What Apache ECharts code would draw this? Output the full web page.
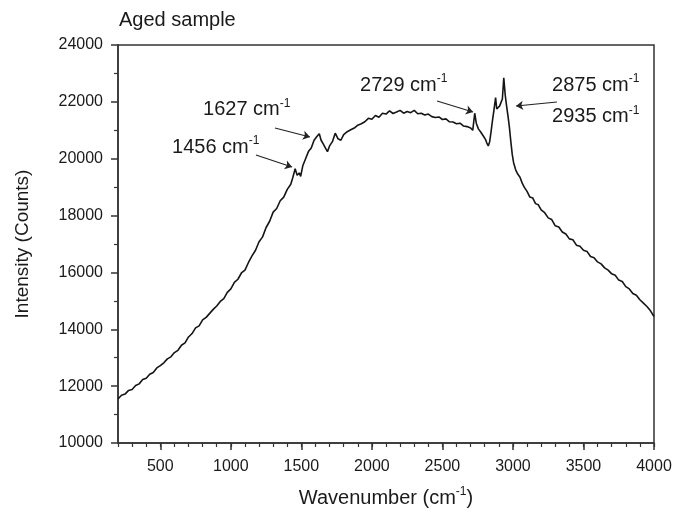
<!DOCTYPE html>
<html>
<head>
<meta charset="utf-8">
<script src="https://cdn.jsdelivr.net/npm/echarts@6/dist/echarts.min.js"></script>
<style>html,body{margin:0;padding:0;background:#fff}#c{width:675px;height:513px}</style>
</head>
<body>
<div id="c"></div>
<script>
// Wavenumber (cm-1)
const wavenumber = [200,225,250,275,300,325,350,375,400,425,450,475,500,525,550,575,600,625,650,675,700,725,750,775,800,825,850,875,900,925,950,975,1000,1025,1050,1075,1100,1125,1150,1175,1200,1225,1250,1275,1300,1325,1350,1375,1400,1425,1440,1456,1470,1485,1495,1510,1530,1550,1570,1590,1610,1627,1640,1655,1670,1685,1700,1720,1740,1760,1780,1800,1825,1850,1875,1900,1925,1950,1975,2000,2025,2050,2075,2100,2125,2150,2175,2200,2225,2250,2275,2300,2325,2350,2375,2400,2425,2450,2475,2500,2525,2550,2575,2600,2625,2650,2675,2700,2715,2729,2740,2755,2770,2790,2805,2815,2825,2835,2845,2855,2865,2877,2885,2895,2905,2915,2925,2935,2945,2955,2965,2975,2985,2995,3005,3020,3035,3050,3065,3080,3100,3120,3140,3160,3180,3200,3225,3250,3275,3300,3325,3350,3375,3400,3425,3450,3475,3500,3525,3550,3575,3600,3625,3650,3675,3700,3725,3750,3775,3800,3825,3850,3875,3900,3925,3950,3975,4000];
// Intensity (Counts)
const intensity = [11550,11680,11720,11850,11880,12020,12080,12230,12280,12420,12480,12640,12720,12820,12960,13030,13180,13260,13440,13520,13730,13850,14050,14120,14330,14420,14560,14700,14820,14980,15080,15300,15420,15650,15760,15980,16080,16350,16580,16780,17080,17250,17580,17800,18120,18250,18520,18650,18920,19100,19350,19650,19420,19500,19380,19750,20000,20250,20380,20650,20780,20880,20650,20520,20380,20250,20450,20600,20900,20700,20650,20850,20950,21020,21080,21180,21230,21300,21420,21390,21520,21460,21600,21570,21680,21590,21640,21700,21600,21660,21620,21700,21580,21600,21540,21570,21480,21450,21470,21380,21400,21300,21290,21230,21250,21150,21130,21080,21000,21600,21250,21050,20950,20800,20680,20550,20450,20600,20950,21350,21700,22150,21750,21700,21850,21780,22100,22850,22250,21850,21500,21100,20600,20150,19850,19600,19450,19350,19150,19000,18850,18650,18620,18420,18380,18200,18100,17920,17860,17640,17600,17420,17350,17180,17150,16960,16920,16780,16740,16560,16520,16370,16300,16160,16080,15950,15900,15730,15680,15500,15420,15260,15200,15040,14920,14800,14650,14450];
const xMajorTicks = [500,1000,1500,2000,2500,3000,3500,4000];
const peakLabels = ['1456','1627','2729','2875','2935'];
// annotation anchors [wavenumber, intensity]
const labelAnchors = [[583,20412],[803,21731],[1916,22592],[3277,22592],[3277,21484]];
const arrows = [
  [[1178,20130],[1434,19708]],
  [[1313,21080],[1561,20763]],
  [[2462,22030],[2717,21643]],
  [[3312,21994],[3022,21854]]
];

const FONT = 'Liberation Sans, Arial, sans-serif';
const TXT = '#1a1a1a';
const chart = echarts.init(document.getElementById('c'), null, {renderer:'canvas'});
const data = wavenumber.map((w,i)=>[w,intensity[i]]);
const supRich = {
  a:{fontSize:20,fontFamily:FONT,color:TXT,lineHeight:24},
  s:{fontSize:12,fontFamily:FONT,color:TXT,verticalAlign:'top',lineHeight:14}
};
chart.setOption({
  animation:false,
  backgroundColor:'#fff',
  title:{text:'Aged sample',left:114,top:5,textStyle:{fontFamily:FONT,fontSize:20,fontWeight:'normal',color:TXT}},
  grid:{left:118,right:21,top:45,bottom:70,show:true,borderColor:'#333',borderWidth:1.5,backgroundColor:'transparent'},
  xAxis:[{
    type:'value',min:200,max:4000,
    name:'{a|Wavenumber (cm}{s|-1}{a|)}',nameLocation:'middle',nameGap:43,
    nameTextStyle:{rich:supRich},
    axisLine:{show:true,lineStyle:{color:'#333',width:1.5}},
    axisTick:{show:true,length:7,customValues:xMajorTicks,lineStyle:{color:'#333',width:1.5}},
    axisLabel:{customValues:xMajorTicks,margin:16,fontSize:16,fontFamily:FONT,color:TXT,formatter:v=>String(v)},
    splitLine:{show:false}
  },{
    type:'value',min:200,max:4000,interval:100,position:'bottom',
    axisLine:{show:false},
    axisTick:{show:true,length:4,lineStyle:{color:'#333',width:1.2}},
    axisLabel:{show:false},splitLine:{show:false}
  }],
  yAxis:{
    type:'value',min:10000,max:24000,interval:2000,
    name:'Intensity (Counts)',nameLocation:'middle',nameGap:86,
    nameTextStyle:{fontSize:19,fontFamily:FONT,color:TXT},
    axisLine:{show:true,lineStyle:{color:'#333',width:1.5}},
    axisTick:{show:true,length:7,lineStyle:{color:'#333',width:1.5}},
    minorTick:{show:true,splitNumber:2,length:4,lineStyle:{color:'#333',width:1.2}},
    axisLabel:{margin:15,fontSize:16,fontFamily:FONT,color:TXT,formatter:v=>String(v)},
    splitLine:{show:false},minorSplitLine:{show:false}
  },
  series:[{
    type:'line',data:data,xAxisIndex:0,showSymbol:false,
    lineStyle:{color:'#151515',width:1.6},
    markLine:{
      silent:true,animation:false,
      symbol:['none','arrow'],symbolSize:7,
      lineStyle:{color:'#222',width:1.2,type:'solid'},
      itemStyle:{color:'#222'},
      label:{show:false},
      data:arrows.map(a=>[{coord:a[0]},{coord:a[1]}])
    },
    markPoint:{
      silent:true,animation:false,
      symbol:'circle',symbolSize:0,
      itemStyle:{color:'transparent'},
      label:{show:true,position:'right',distance:0,rich:supRich},
      data:labelAnchors.map((c,i)=>({coord:c,value:peakLabels[i],label:{formatter:'{a|'+peakLabels[i]+' cm}{s|-1}'}}))
    }
  }]
});
</script>
</body>
</html>
